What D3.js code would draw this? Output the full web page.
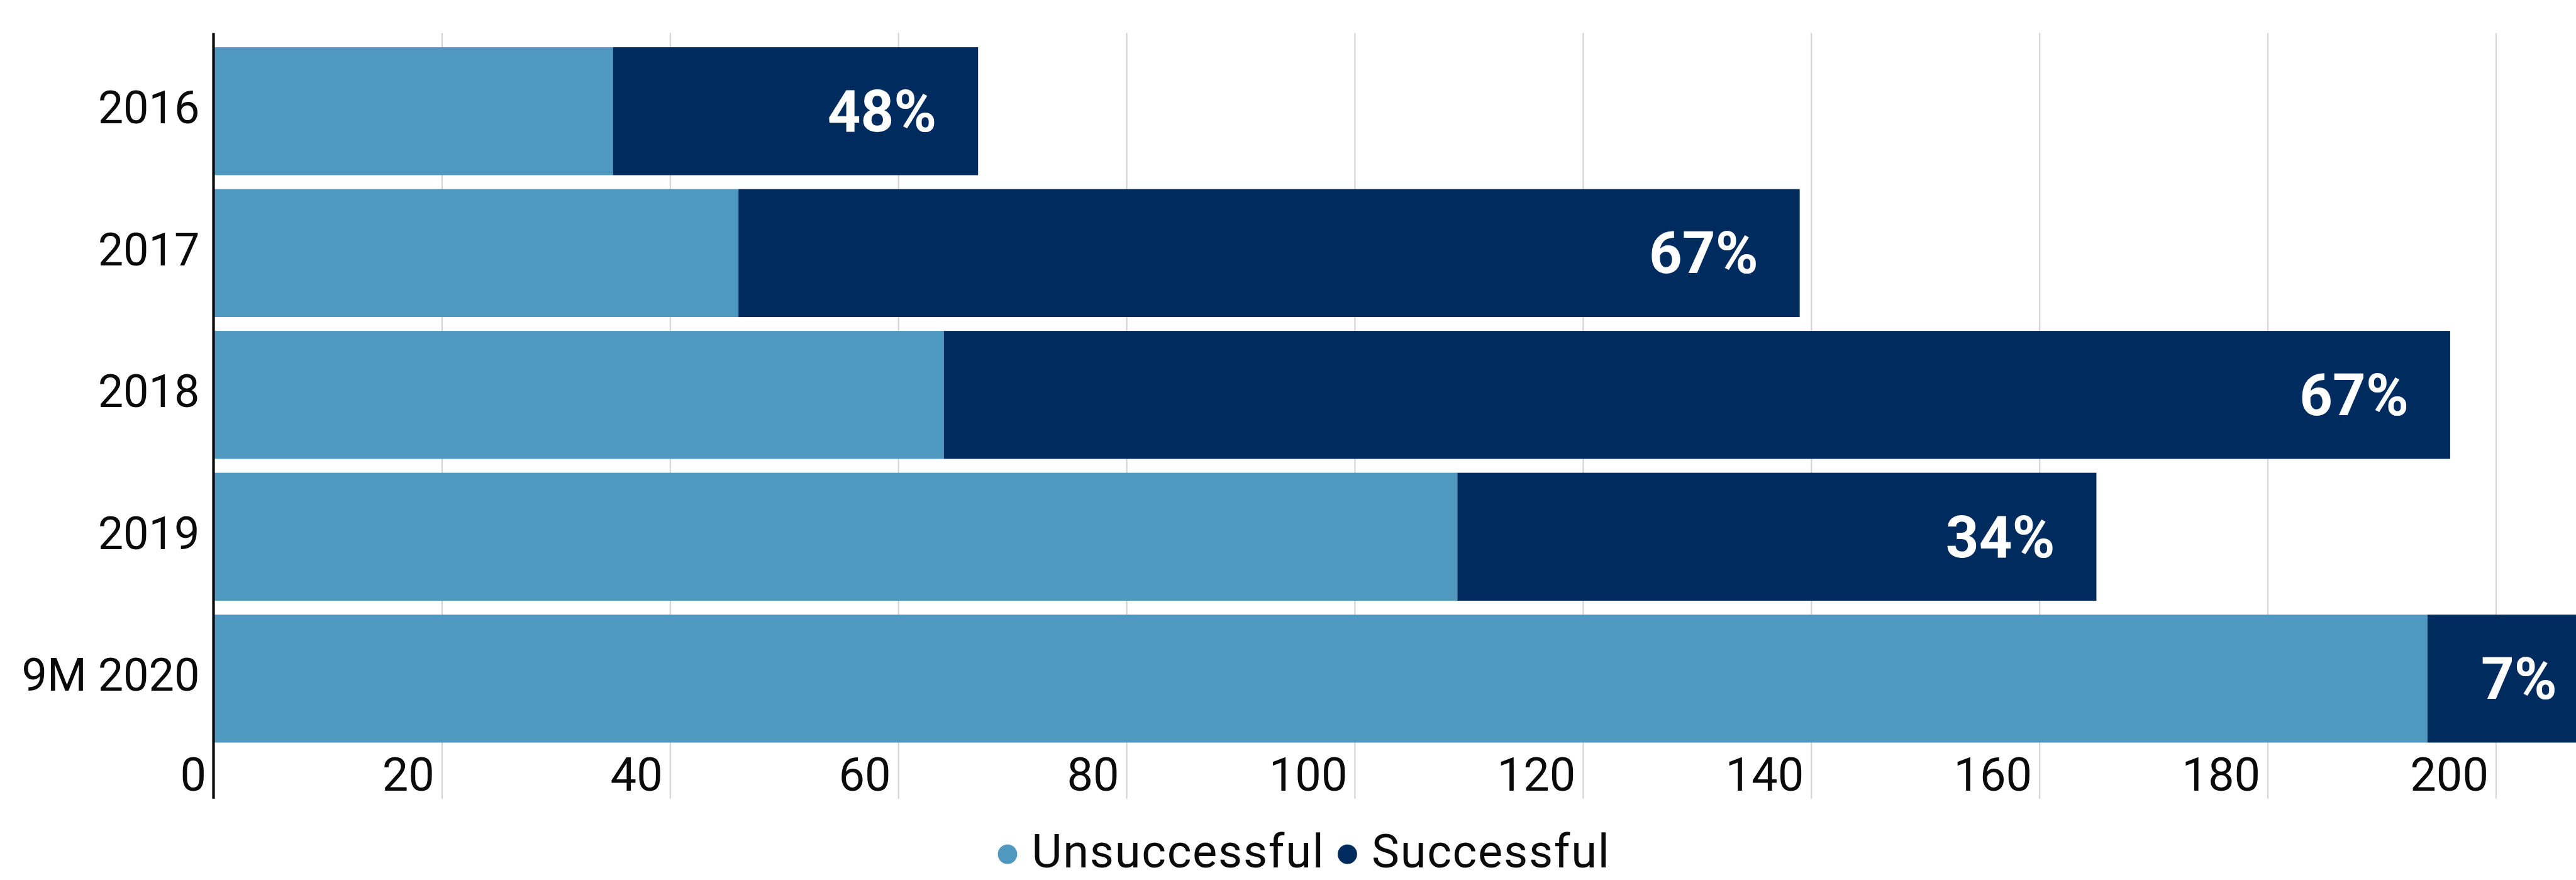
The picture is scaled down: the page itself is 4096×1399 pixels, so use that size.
<!DOCTYPE html>
<html>
<head>
<meta charset="utf-8">
<script src="https://cdn.jsdelivr.net/npm/d3@7"></script>
<style>
  html, body { margin: 0; padding: 0; background: #ffffff; }
  svg { display: block; }
</style>
</head>
<body>
<svg id="chart" width="4096" height="1399"></svg>
<script>
// ---- data ----
const categories   = ["2016", "2017", "2018", "2019", "9M 2020"];
const unsuccessful = [35, 46, 64, 109, 194];
const successful   = [32, 93, 132, 56, 15];
const pctLabels    = ["48%", "67%", "67%", "34%", "7%"];
const seriesNames  = ["Unsuccessful", "Successful"];
const seriesColors = ["#4f99c1", "#002b5e"];
const xTicks       = [0, 20, 40, 60, 80, 100, 120, 140, 160, 180, 200];

// ---- layout ----
const W = 4096, H = 1399;
const x0 = 339.5;
const gridTop = 52.6, gridBottom = 1269.7;
const font = "Roboto, 'Noto Sans', sans-serif";

const svg = d3.select("#chart");

const x = d3.scaleLinear().domain([0, 200]).range([x0, x0 + 200 * 18.145]);
const y = d3.scaleBand().domain(categories).range([63.8, 1191.8])
  .paddingInner(0.098).paddingOuter(0.05);

const rows = categories.map((c, i) => ({
  cat: c, Unsuccessful: unsuccessful[i], Successful: successful[i], pct: pctLabels[i]
}));
const stacked = d3.stack().keys(seriesNames)(rows);

// gridlines + x tick labels
const xAxis = d3.axisBottom(x).tickValues(xTicks).tickSize(gridBottom - gridTop).tickFormat(d3.format("d"));
const gx = svg.append("g").attr("transform", `translate(0,${gridTop})`).call(xAxis);
gx.select(".domain").remove();
gx.selectAll(".tick line").attr("stroke", "#d3d3d3").attr("stroke-width", 2.1);
gx.selectAll(".tick text")
  .attr("text-anchor", "end")
  .attr("x", -12)
  .attr("y", 1257 - gridTop)
  .attr("dy", 0)
  .attr("fill", "#0a0a0a")
  .style("font-family", font)
  .style("font-size", "74px");

// bars
svg.append("g").selectAll("g")
  .data(stacked)
  .join("g")
  .attr("fill", (d, i) => seriesColors[i])
  .selectAll("rect")
  .data(d => d)
  .join("rect")
  .attr("x", d => x(d[0]))
  .attr("y", d => y(d.data.cat))
  .attr("width", d => x(d[1]) - x(d[0]))
  .attr("height", y.bandwidth());

// percent labels
svg.append("g").selectAll("text")
  .data(rows)
  .join("text")
  .attr("x", d => x(d.Unsuccessful + d.Successful) - 66)
  .attr("y", d => y(d.cat) + y.bandwidth() / 2)
  .attr("dy", "0.35em")
  .attr("text-anchor", "end")
  .attr("fill", "#ffffff")
  .style("font-family", font)
  .style("font-weight", "700")
  .style("font-size", "92px")
  .text(d => d.pct);

// y axis
const yAxis = d3.axisLeft(y).tickSize(0).tickPadding(22);
const gy = svg.append("g").attr("transform", `translate(${x0},0)`).call(yAxis);
gy.select(".domain").remove();
gy.selectAll(".tick text")
  .attr("dy", "0.27em")
  .attr("fill", "#0a0a0a")
  .style("font-family", font)
  .style("font-size", "72px");

// axis line
svg.append("line")
  .attr("x1", x(0)).attr("x2", x(0))
  .attr("y1", gridTop).attr("y2", gridBottom)
  .attr("stroke", "#0a0a0a").attr("stroke-width", 4.2);

// legend
const legend = svg.append("g");
let lx = 1602;
const ly = 1358;
seriesNames.forEach((name, i) => {
  legend.append("circle").attr("cx", lx).attr("cy", ly).attr("r", 15.4).attr("fill", seriesColors[i]);
  const t = legend.append("text")
    .attr("x", lx + 38.6)
    .attr("y", 1379)
    .attr("fill", "#0a0a0a")
    .style("font-family", font)
    .style("font-size", "74px")
    .style("letter-spacing", "1.7px")
    .text(name);
  lx = lx + 38.6 + t.node().getComputedTextLength() + 36;
});
</script>
</body>
</html>
